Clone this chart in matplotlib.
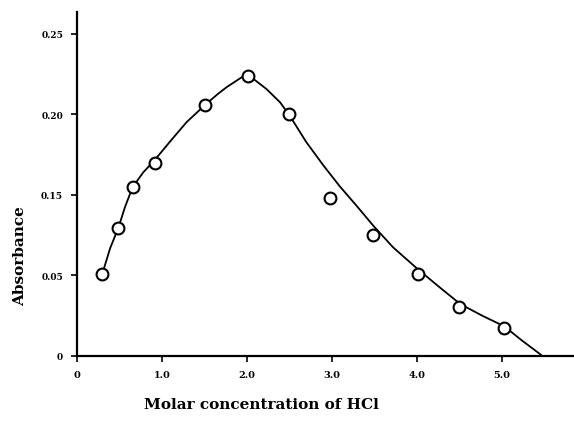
import matplotlib
matplotlib.use("Agg")
import matplotlib.pyplot as plt

# Measured points (molar HCl concentration, absorbance on the printed scale)
x_points = [0.30, 0.48, 0.66, 0.92, 1.51, 2.01, 2.50, 2.98, 3.48, 4.01, 4.50, 5.03]
y_points = [0.064, 0.099, 0.131, 0.150, 0.195, 0.217, 0.188, 0.123, 0.094, 0.064, 0.038, 0.0215]

# Drawn smooth curve
x_curve = [0.30, 0.39, 0.49, 0.565, 0.655, 0.78, 0.92, 1.09, 1.29, 1.51, 1.66, 1.76, 2.00,
           2.23, 2.39, 2.50, 2.70, 2.90, 3.09, 3.29, 3.49, 3.72, 4.01, 4.26, 4.51, 4.77,
           5.03, 5.24, 5.46]
y_curve = [0.064, 0.0835, 0.0999, 0.1155, 0.131, 0.1425, 0.1525, 0.166, 0.1815, 0.195, 0.2035,
           0.2086, 0.219, 0.2073, 0.197, 0.187, 0.166, 0.148, 0.132, 0.1167, 0.101, 0.0844,
           0.0675, 0.0538, 0.0404, 0.0313, 0.023, 0.0119, 0.001]

x_ticks = [0, 1, 2, 3, 4, 5]
x_tick_labels = ["0", "1.0", "2.0", "3.0", "4.0", "5.0"]
y_ticks = [0, 0.0625, 0.125, 0.1875, 0.25]
y_tick_labels = ["0", "0.05", "0.15", "0.20", "0.25"]

fig = plt.figure(figsize=(5.74, 4.31), dpi=100)
ax = fig.add_axes([0.134, 0.1717, 0.866, 0.798])

ax.plot(x_curve, y_curve, color="black", lw=1.3, zorder=2, solid_joinstyle="round")
ax.plot(x_points, y_points, linestyle="none", marker="o", markersize=8.5,
        markerfacecolor="white", markeredgecolor="black", markeredgewidth=1.5, zorder=3)

ax.set_xlim(0, 5.85)
ax.set_ylim(0, 0.267)
for side in ["top", "right"]:
    ax.spines[side].set_visible(False)
for side in ["left", "bottom"]:
    ax.spines[side].set_linewidth(1.6)

ax.set_xticks(x_ticks)
ax.set_xticklabels(x_tick_labels, family="DejaVu Serif", fontweight="bold", fontsize=7)
ax.set_yticks(y_ticks)
ax.set_yticklabels(y_tick_labels, family="DejaVu Serif", fontweight="bold", fontsize=6.5)
ax.tick_params(axis="both", direction="out", length=4, width=1.2, pad=6)

fig.text(0.456, 0.06, "Molar concentration of HCl", family="DejaVu Serif",
         fontweight="semibold", fontsize=11, ha="center", va="center")
fig.text(0.035, 0.405, "Absorbance", family="DejaVu Serif", fontweight="bold",
         fontsize=11, rotation=90, ha="center", va="center")

fig.savefig("out.png", dpi=100)
